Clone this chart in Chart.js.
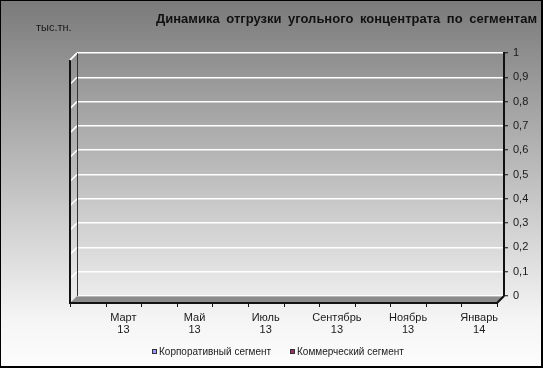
<!DOCTYPE html>
<html><head><meta charset="utf-8">
<script src="https://cdn.jsdelivr.net/npm/chart.js@4.4.1/dist/chart.umd.min.js"></script>
<style>html,body{margin:0;padding:0;background:#fff}#wrap{width:543px;height:368px;position:relative}</style>
</head><body><div id="wrap"><canvas id="c" width="543" height="368"></canvas></div>
<script>
const title = 'Динамика отгрузки угольного концентрата по сегментам';
const unitLabel = 'тыс.тн.';
const months = ['Февраль','Март','Апрель','Май','Июнь','Июль','Август','Сентябрь','Октябрь','Ноябрь','Декабрь','Январь'];
const years = ['13','13','13','13','13','13','13','13','13','13','13','14'];
const seriesNames = ['Корпоративный сегмент','Коммерческий сегмент'];
const seriesColors = ['#9999ff','#993366'];
const corporate = [0,0,0,0,0,0,0,0,0,0,0,0];
const commercial = [0,0,0,0,0,0,0,0,0,0,0,0];
const yMin = 0, yMax = 1, yStep = 0.1;

const FONT = '"Liberation Sans", Arial, sans-serif';
const DX = -7, DY = 7;

const decor = {
  id: 'decor',
  beforeDraw(chart) {
    const ctx = chart.ctx, W = chart.width, H = chart.height;
    const g = ctx.createLinearGradient(0, 0, 0, H);
    g.addColorStop(0, 'rgb(122,122,122)');
    g.addColorStop(0.87, 'rgb(245,245,245)');
    g.addColorStop(1, 'rgb(253,253,253)');
    ctx.save();
    ctx.fillStyle = g;
    ctx.fillRect(0, 0, W, H);
    ctx.restore();
  },
  afterDraw(chart) {
    const ctx = chart.ctx, a = chart.chartArea;
    const xs = chart.scales.x, ys = chart.scales.y;
    ctx.save();
    // side wall gridlines
    ctx.strokeStyle = '#ffffff';
    ctx.lineWidth = 1.5;
    for (let v = yStep; v <= yMax + 1e-9; v += yStep) {
      const y = ys.getPixelForValue(v);
      ctx.beginPath();
      ctx.moveTo(a.left, y);
      ctx.lineTo(a.left + DX, y + DY);
      ctx.stroke();
    }
    // floor
    ctx.beginPath();
    ctx.moveTo(a.left, a.bottom);
    ctx.lineTo(a.right, a.bottom);
    ctx.lineTo(a.right + DX, a.bottom + DY);
    ctx.lineTo(a.left + DX, a.bottom + DY);
    ctx.closePath();
    ctx.fillStyle = '#8c8c8c';
    ctx.fill();
    ctx.strokeStyle = '#b8b8b8';
    ctx.lineWidth = 1;
    ctx.beginPath();
    ctx.moveTo(a.left, a.bottom + 0.5);
    ctx.lineTo(a.right, a.bottom + 0.5);
    ctx.stroke();
    // back left edge
    ctx.strokeStyle = '#333';
    ctx.lineWidth = 1;
    ctx.beginPath();
    ctx.moveTo(a.left + 0.5, a.top);
    ctx.lineTo(a.left + 0.5, a.bottom);
    ctx.stroke();
    // front edges
    ctx.strokeStyle = '#111';
    ctx.lineWidth = 2;
    ctx.beginPath();
    ctx.moveTo(a.left + DX, a.top + DY);
    ctx.lineTo(a.left + DX, a.bottom + DY);
    ctx.lineTo(a.right + DX, a.bottom + DY);
    ctx.lineTo(a.right, a.bottom);
    ctx.stroke();
    // top diagonal
    ctx.strokeStyle = '#ffffff';
    ctx.lineWidth = 1.5;
    ctx.beginPath();
    ctx.moveTo(a.left + DX, a.top + DY);
    ctx.lineTo(a.left, a.top);
    ctx.stroke();
    // x tick marks on front edge
    ctx.strokeStyle = '#111';
    ctx.lineWidth = 1;
    const n = months.length, w = (a.right - a.left) / n;
    for (let i = 0; i <= n; i++) {
      const x = Math.round(xs.getPixelForValue(0) - w / 2 + i * w + DX) + 0.5;
      ctx.beginPath();
      ctx.moveTo(x, a.bottom + DY);
      ctx.lineTo(x, a.bottom + DY + 4);
      ctx.stroke();
    }
    // title
    ctx.fillStyle = '#111';
    ctx.font = 'bold 13px ' + FONT;
    ctx.textBaseline = 'alphabetic';
    ctx.textAlign = 'right';
    const tw = ctx.measureText(title).width;
    const target = 381;
    const gaps = title.split(' ').length - 1;
    if (tw < target && 'wordSpacing' in ctx) ctx.wordSpacing = ((target - tw) / gaps) + 'px';
    ctx.fillText(title, 537, 23);
    if ('wordSpacing' in ctx) ctx.wordSpacing = '0px';
    // unit label
    ctx.font = '11px ' + FONT;
    ctx.textAlign = 'left';
    ctx.fillStyle = '#1a1a1a';
    ctx.fillText(unitLabel, 36, 31);
    // legend
    const lx = [152, 290];
    ctx.font = '10px ' + FONT;
    ctx.textBaseline = 'middle';
    chart.data.datasets.forEach((ds, i) => {
      ctx.fillStyle = ds.backgroundColor;
      ctx.fillRect(lx[i], 349, 5, 5);
      ctx.strokeStyle = '#333';
      ctx.lineWidth = 1;
      ctx.strokeRect(lx[i] + 0.5, 349.5, 4, 4);
      ctx.fillStyle = '#1a1a1a';
      ctx.fillText(ds.label, lx[i] + 7, 352);
    });
    // outer frame
    ctx.strokeStyle = '#000';
    ctx.lineWidth = 1;
    ctx.strokeRect(0.5, 0.5, chart.width - 1, chart.height - 1);
    ctx.fillStyle = '#000';
    ctx.fillRect(chart.width - 2, 0, 2, chart.height);
    ctx.fillRect(0, chart.height - 2, chart.width, 2);
    ctx.restore();
  }
};

new Chart(document.getElementById('c'), {
  type: 'bar',
  data: {
    labels: months.map((m, i) => [m, years[i]]),
    datasets: [
      { label: seriesNames[0], data: corporate, backgroundColor: seriesColors[0] },
      { label: seriesNames[1], data: commercial, backgroundColor: seriesColors[1] }
    ]
  },
  options: {
    responsive: false,
    animation: false,
    devicePixelRatio: 1,
    layout: { padding: { left: 77, top: 53, right: 0, bottom: 0 } },
    plugins: { legend: { display: false }, title: { display: false }, tooltip: { enabled: false } },
    scales: {
      x: {
        offset: true,
        grid: { display: false, drawTicks: false },
        border: { display: false },
        ticks: {
          autoSkip: false, maxRotation: 0, minRotation: 0,
          padding: 16, labelOffset: DX,
          color: '#1a1a1a',
          font: { family: FONT, size: 11, lineHeight: 1.1 },
          callback: function (v, i) { return i % 2 === 1 ? this.getLabelForValue(v) : ''; }
        },
        afterFit: s => { s.height = 72; }
      },
      y: {
        position: 'right',
        min: yMin, max: yMax,
        grid: { color: '#ffffff', lineWidth: 1.5, tickColor: '#111', tickLength: 4, tickWidth: 1 },
        border: { color: '#111', width: 2 },
        ticks: {
          stepSize: yStep, padding: 5, color: '#1a1a1a',
          font: { family: FONT, size: 11 },
          callback: v => String(Math.round(v * 10) / 10).replace('.', ',')
        },
        afterFit: s => { s.width = 39; }
      }
    }
  },
  plugins: [decor]
});
</script></body></html>
